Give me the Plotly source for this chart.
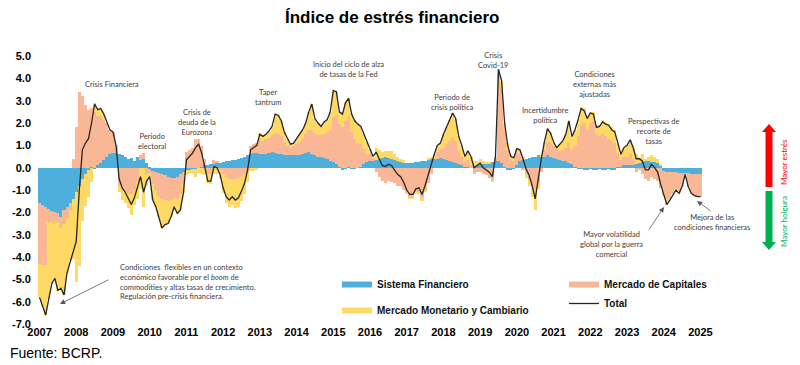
import plotly.graph_objects as go

# ---------------- data ----------------
years = list(range(2007, 2026))
periods = [f"{y}-{m:02d}" for y in range(2007, 2026) for m in range(1, 13)][:217]

sistema_financiero = [
 -1.6, -1.65, -1.75, -1.85, -1.95, -2.0, -2.05, -2.2, -1.9, -1.75, -1.6, -1.4,
 -1.1, -0.8, -0.5, -0.3, -0.1, 0.05, -0.05, 0.1, 0.2, 0.35, 0.5, 0.6,
 0.65, 0.65, 0.6, 0.55, 0.5, 0.4, 0.45, 0.3, 0.5, 0.35, 0.4, 0.2,
 -0.05, -0.15, -0.2, -0.25, -0.3, -0.35, -0.4, -0.45, -0.45, -0.4, -0.3, -0.2,
 -0.1, -0.1, -0.05, -0.05, 0.0, 0.05, 0.1, 0.1, 0.15, 0.15, 0.2, 0.2,
 0.25, 0.3, 0.3, 0.35, 0.35, 0.4, 0.45, 0.5, 0.55, 0.6, 0.65, 0.65,
 0.6, 0.6, 0.62, 0.65, 0.7, 0.65, 0.6, 0.6, 0.55, 0.55, 0.55, 0.55,
 0.55, 0.55, 0.6, 0.65, 0.7, 0.6, 0.55, 0.5, 0.5, 0.45, 0.4, 0.3,
 0.25, 0.15, 0.05, -0.1, -0.05, 0.05, -0.05, -0.05, 0.0, 0.05, 0.15, 0.25,
 0.3, 0.3, 0.35, 0.4, 0.45, 0.5, 0.45, 0.4, 0.35, 0.3, 0.25, 0.2,
 0.2, 0.2, 0.2, 0.25, 0.25, 0.3, 0.3, 0.35, 0.4, 0.4, 0.4, 0.45,
 0.4, 0.35, 0.3, 0.25, 0.2, 0.15, 0.1, 0.05, 0.05, 0.0, 0.05, 0.1,
 0.1, 0.15, 0.2, 0.2, 0.25, 0.3, 0.3, 0.2, 0.05, -0.1, -0.1, -0.05,
 0.1, 0.3, 0.35, 0.4, 0.45, 0.5, 0.5, 0.55, 0.5, 0.5, 0.55, 0.5,
 0.45, 0.4, 0.35, 0.3, 0.3, 0.2, 0.15, 0.05, -0.05, -0.05, -0.1, -0.1,
 -0.05, -0.1, -0.1, -0.05, -0.1, -0.1, -0.05, -0.1, -0.1, 0.05, 0.05, 0.1,
 0.1, 0.1, 0.1, 0.15, 0.2, 0.25, 0.3, 0.3, 0.25, 0.25, 0.2, 0.1,
 -0.15, -0.2, -0.2, -0.2, -0.2, -0.25, -0.25, -0.25, -0.25, -0.3, -0.3, -0.3,
 -0.3]

mercado_capitales = [
 -2.7, -2.7, -2.6, -0.6, -0.5, -0.4, -0.4, -0.5, -0.6, -0.5, -0.3, 0.4,
 1.8, 3.4, 3.2, 2.8, 2.6, 2.6, 2.5, 2.2, 2.1, 1.8, 1.5, 1.1,
 0.95, 0.35, -0.8, -1.0, -1.1, -1.2, -1.2, -1.0, -0.6, 0.2, 0.25, -0.3,
 -0.2, -0.6, -0.8, -1.0, -1.1, -1.1, -1.1, -1.0, -0.9, -1.0, -0.9, -0.5,
 0.7, 0.8, 0.9, 1.3, 1.3, 0.9, 0.3, -0.3, -0.3, 0.2, 0.1, -0.1,
 -0.3, -0.4, -0.5, -0.5, -0.5, -0.45, -0.4, -0.3, -0.2, 0.35, 0.4, 0.45,
 0.7, 0.6, 0.65, 0.7, 0.75, 0.9, 0.9, 0.8, 0.6, 0.45, 0.35, 0.4,
 0.5, 0.6, 0.7, 0.85, 1.0, 1.1, 1.0, 0.95, 0.95, 1.05, 1.2, 1.4,
 2.0, 2.2, 1.9, 1.8, 2.1, 2.2, 1.6, 1.3, 1.1, 1.0, 0.7, 0.35,
 0.3, 0.1, -0.2, -0.4, -0.6, -0.7, -0.6, -0.65, -0.7, -0.8, -0.8, -1.0,
 -1.1, -1.3, -1.3, -1.1, -1.1, -1.3, -1.0, -0.7, -0.3, 0.0, 0.3, 0.4,
 0.5, 0.7, 0.9, 1.1, 1.0, 0.6, 0.4, 0.2, 0.3, 0.1, -0.3, -0.2,
 -0.2, -0.3, -0.35, -0.45, -0.55, 0.2, 3.9, 3.4, 1.7, 0.8, 0.4, 0.3,
 0.5, 0.3, -0.1, -0.3, -0.5, -0.8, -1.0, -0.7, -0.2, 0.3, 0.6, 0.6,
 0.5, 0.45, 0.4, 0.5, 0.6, 0.9, 0.7, 0.9, 1.4, 1.9, 2.0, 1.7,
 2.0, 2.1, 1.5, 1.4, 1.5, 1.4, 1.3, 1.2, 1.1, 0.6, 0.3, 0.4,
 0.4, 0.5, 0.3, -0.2, -0.1, -0.3, -0.5, -0.6, -0.4, -0.5, -0.6, -0.9,
 -1.0, -1.3, -1.2, -1.0, -0.7, -0.8, -0.5, -0.05, -0.6, -0.85, -0.95, -1.0,
 -1.0]

mercado_monetario = [
 -1.5, -1.85, -2.25, -3.45, -2.75, -2.55, -3.05, -2.7, -3.2, -2.45, -2.3, -2.7,
 -4.0, -3.6, -1.9, -1.4, -1.2, -0.65, 0.4, 0.3, 0.35, 0.25, 0.0, 0.0,
 0.0, 0.0, -0.3, -0.45, -0.5, -0.6, -0.9, -0.65, -0.8, -0.95, -1.75, -0.5,
 -0.15, -0.7, -0.75, -0.95, -1.3, -1.1, -1.0, -0.75, -0.4, -0.65, -0.7, -0.45,
 -0.25, -0.2, -0.2, -0.35, -0.25, -0.3, -0.35, -0.4, -0.45, -0.3, -0.3, -0.4,
 -0.85, -1.2, -1.25, -1.15, -1.3, -1.3, -1.1, -0.9, -0.45, -0.15, -0.15, -0.1,
 0.2, 0.2, 0.23, 0.3, 0.4, 0.85, 0.85, 0.7, 0.45, 0.3, 0.15, 0.15,
 0.25, 0.35, 0.4, 0.5, 0.8, 1.15, 0.65, 0.55, 0.4, 0.55, 0.55, 0.8,
 1.2, 1.05, 0.55, 0.7, 0.85, 0.85, 0.85, 0.85, 0.85, 0.8, 0.65, 0.55,
 0.25, 0.1, 0.55, 0.4, 0.25, 0.25, 0.3, 0.35, 0.25, 0.2, 0.15, 0.15,
 -0.1, -0.1, -0.1, -0.1, -0.05, -0.2, -0.1, 0.05, 0.1, 0.2, 0.3, 0.25,
 0.6, 0.75, 0.95, 1.1, 1.0, 0.65, 0.5, 0.25, 0.4, 0.4, 0.25, 0.2,
 0.3, 0.15, 0.05, 0.05, -0.1, 0.0, 0.2, 0.3, 0.25, 0.3, 0.2, 0.2,
 0.25, 0.2, 0.15, -0.15, -0.3, -0.5, -0.9, -0.25, 0.1, 0.35, 0.6, 0.45,
 0.2, 0.05, 0.3, 0.4, 0.6, 1.0, 0.55, 0.75, 0.8, 0.8, 0.65, 0.6,
 0.5, 0.4, 0.4, 0.5, 0.65, 0.65, 0.65, 0.6, 0.6, 0.45, 0.25, 0.4,
 0.5, 0.65, 0.5, 0.45, 0.3, 0.35, 0.1, 0.2, 0.3, 0.25, 0.2, 0.05,
 -0.1, -0.15, -0.05, 0.0, -0.1, -0.1, -0.1, 0.0, 0.0, 0.0, 0.0, 0.0,
 0.0]

total = [
 -5.8, -6.2, -6.6, -5.9, -5.2, -4.95, -5.5, -5.4, -5.7, -4.7, -4.2, -3.7,
 -3.3, -1.0, 0.8, 1.1, 1.3, 2.0, 2.85, 2.6, 2.65, 2.4, 2.0, 1.7,
 1.6, 1.0, -0.5, -0.9, -1.1, -1.4, -1.65, -1.35, -0.9, -0.4, -1.1, -0.6,
 -0.4, -1.45, -1.75, -2.2, -2.7, -2.55, -2.5, -2.2, -1.75, -2.05, -1.9, -1.15,
 0.35, 0.5, 0.65, 0.9, 1.05, 0.65, 0.05, -0.6, -0.6, 0.05, 0.0, -0.3,
 -0.9, -1.3, -1.45, -1.3, -1.45, -1.35, -1.05, -0.7, -0.1, 0.8, 0.9, 1.0,
 1.5, 1.4, 1.5, 1.65, 1.85, 2.4, 2.35, 2.1, 1.6, 1.3, 1.05, 1.1,
 1.3, 1.5, 1.7, 2.0, 2.5, 2.85, 2.2, 2.0, 1.85, 2.05, 2.15, 2.5,
 3.45, 3.4, 2.5, 2.4, 2.9, 3.1, 2.4, 2.1, 1.95, 1.85, 1.5, 1.15,
 0.85, 0.5, 0.7, 0.4, 0.1, 0.05, 0.15, 0.1, -0.1, -0.3, -0.4, -0.65,
 -1.0, -1.2, -1.2, -0.95, -0.9, -1.2, -0.8, -0.3, 0.2, 0.6, 1.0, 1.1,
 1.5, 1.8, 2.15, 2.45, 2.2, 1.4, 1.0, 0.5, 0.75, 0.5, 0.0, 0.1,
 0.2, 0.0, -0.1, -0.2, -0.4, 0.5, 4.4, 3.9, 2.0, 1.0, 0.5, 0.45,
 0.85, 0.8, 0.4, -0.05, -0.35, -0.8, -1.4, -0.4, 0.4, 1.15, 1.75, 1.55,
 1.15, 0.9, 1.05, 1.2, 1.5, 2.1, 1.4, 1.7, 2.15, 2.65, 2.55, 2.2,
 2.45, 2.4, 1.8, 1.85, 2.05, 1.95, 1.9, 1.7, 1.6, 1.1, 0.6, 0.9,
 1.0, 1.25, 0.9, 0.4, 0.4, 0.3, -0.1, -0.1, 0.15, 0.0, -0.2, -0.75,
 -1.25, -1.65, -1.45, -1.2, -1.0, -1.15, -0.85, -0.3, -0.85, -1.15, -1.25, -1.3,
 -1.3]

y_ticks = list(range(-7, 6))

# ---------------- style ----------------
BLUE = "#4FAFDC"
SALMON = "#F9B795"
YELLOW = "#FFD966"
LINE = "#262626"
ANN = "#404040"
BOLD_FONT = "Liberation Sans"
SMALL_FONT = "Lato"

OFF = 8                      # page body margin of the browser
W, H = 800 - OFF, 365 - OFF  # figure size so that it fits the window
L, R, T, B = 38, 702, 56, 324  # plot area in reference-image pixels


def px(x):
    return (x - L) / (R - L)


def py(y):
    return (B - y) / (B - T)


fig = go.Figure()
fig.add_trace(go.Bar(x=periods, y=sistema_financiero, marker=dict(color=BLUE, line=dict(width=0)),
                     showlegend=False, name="Sistema Financiero"))
fig.add_trace(go.Bar(x=periods, y=mercado_capitales, marker=dict(color=SALMON, line=dict(width=0)),
                     showlegend=False, name="Mercado de Capitales"))
fig.add_trace(go.Bar(x=periods, y=mercado_monetario, marker=dict(color=YELLOW, line=dict(width=0)),
                     showlegend=False, name="Mercado Monetario y Cambiario"))
fig.add_trace(go.Scatter(x=periods, y=total, mode="lines", line=dict(color=LINE, width=1.3),
                         name="Total", legend="legend2", legendgroup="d", legendrank=2))

# legend proxies (wide thin swatches as in the reference)
fig.add_trace(go.Scatter(x=[None], y=[None], mode="lines", line=dict(color=BLUE, width=6),
                         name="Sistema Financiero", legend="legend", legendgroup="a"))
fig.add_trace(go.Scatter(x=[None], y=[None], mode="lines", line=dict(color=YELLOW, width=6),
                         name="Mercado Monetario y Cambiario", legend="legend", legendgroup="b"))
fig.add_trace(go.Scatter(x=[None], y=[None], mode="lines", line=dict(color=SALMON, width=6),
                         name="Mercado de Capitales", legend="legend2", legendgroup="c", legendrank=1))

legend_font = dict(family=BOLD_FONT, size=10, color="#111111", weight="bold")
tick_font = dict(family=BOLD_FONT, size=11, color="#000000", weight="bold")

annotations = []


def note(text, x, y, **kw):
    d = dict(text=text, x=px(x), y=py(y), xref="paper", yref="paper", showarrow=False,
             font=dict(family=SMALL_FONT, size=7.5, color=ANN), align="center",
             xanchor="center", yanchor="middle")
    d.update(kw)
    annotations.append(d)


def arrow(x0, y0, x1, y1):
    # arrow from (x0,y0) tail to (x1,y1) head, reference pixel coordinates
    annotations.append(dict(text="", x=px(x1), y=py(y1), xref="paper", yref="paper",
                            ax=x0 - x1, ay=y0 - y1, showarrow=True, arrowhead=2,
                            arrowsize=1.3, arrowwidth=0.8, arrowcolor="#595959"))


note("Crisis Financiera", 112, 84)
note("Periodo<br>electoral", 152, 141)
note("Crisis de<br>deuda de la<br>Eurozona", 197, 122)
note("Taper<br>tantrum", 268, 97.5)
note("Inicio del ciclo de alza<br>de tasas de la Fed", 348, 69.5)
note("Periodo de<br>crisis política", 452, 102)
note("Crisis<br>Covid-19", 493, 60.5)
note("Incertidumbre<br>política", 545, 115.5)
note("Condiciones<br>externas más<br>ajustadas", 594, 84)
note("Perspectivas de<br>recorte de<br>tasas", 653, 131)
note("Mayor volatilidad<br>global por la guerra<br>comercial", 611, 244)
note("Mejora de las<br>condiciones financieras", 712, 222.5)
note("Condiciones  flexibles en un contexto<br>económico favorable por el <i>boom</i> de<br>"
     "commodities y altas tasas de crecimiento.<br>Regulación pre-crisis financiera.",
     118, 282, xanchor="left", align="left")

arrow(110, 279, 60, 304)
arrow(648, 231, 664, 207)
arrow(712, 212, 697, 201)

# title and source
annotations.append(dict(text="<b>Índice de estrés financiero</b>", x=px(392), y=py(17),
                        xref="paper", yref="paper", showarrow=False, xanchor="center", yanchor="middle",
                        font=dict(family=BOLD_FONT, size=17, color="#000000")))
annotations.append(dict(text="Fuente: BCRP.", x=px(8), y=py(353), xref="paper", yref="paper",
                        showarrow=False, xanchor="left", yanchor="middle",
                        font=dict(family=BOLD_FONT, size=14, color="#000000")))

# side labels
annotations.append(dict(text="Mayor estrés", x=px(784), y=py(162), xref="paper", yref="paper",
                        showarrow=False, textangle=-90, xanchor="center", yanchor="middle",
                        font=dict(family=SMALL_FONT, size=8, color="#FF0000")))
annotations.append(dict(text="Mayor holgura", x=px(784), y=py(222), xref="paper", yref="paper",
                        showarrow=False, textangle=-90, xanchor="center", yanchor="middle",
                        font=dict(family=SMALL_FONT, size=8, color="#00B050")))


def rect(x0, y0, x1, y1, color):
    return dict(type="rect", xref="paper", yref="paper", x0=px(x0), x1=px(x1), y0=py(y0), y1=py(y1),
                fillcolor=color, line=dict(width=0), layer="above")


def tri(pts, color):
    path = "M " + " L ".join(f"{px(a)},{py(b)}" for a, b in pts) + " Z"
    return dict(type="path", xref="paper", yref="paper", path=path, fillcolor=color,
                line=dict(width=0), layer="above")


shapes = [
    rect(765.5, 132, 772.5, 187, "#FF0000"),
    tri([(762, 132), (776, 132), (769, 124)], "#FF0000"),
    rect(765.5, 191, 772.5, 242, "#00B050"),
    tri([(762, 242), (776, 242), (769, 250)], "#00B050"),
]

fig.update_layout(
    width=W, height=H,
    margin=dict(l=L - OFF, r=W - (R - OFF), t=T - OFF, b=H - (B - OFF), autoexpand=False),
    paper_bgcolor="white", plot_bgcolor="white",
    barmode="relative", bargap=0,
    showlegend=True,
    legend=dict(x=px(337), y=py(270), xanchor="left", yanchor="top", bgcolor="rgba(0,0,0,0)",
                font=legend_font, tracegroupgap=7, itemwidth=30),
    legend2=dict(x=px(564), y=py(270), xanchor="left", yanchor="top", bgcolor="rgba(0,0,0,0)",
                 font=legend_font, tracegroupgap=7, itemwidth=30, traceorder="normal"),
    annotations=annotations,
    shapes=shapes,
    xaxis=dict(type="category", range=[-0.5, len(periods) - 0.5], automargin=False,
               tickvals=[f"{y}-01" for y in years], ticktext=[str(y) for y in years],
               showgrid=False, showline=False, zeroline=False, ticks="",
               tickfont=tick_font, tickangle=0),
    yaxis=dict(range=[-7, 5], tickvals=y_ticks, ticktext=[f"{v:.1f}" for v in y_ticks],
               automargin=False,
               showgrid=False, showline=False, zeroline=False, ticks="", ticklabelstandoff=6,
               tickfont=tick_font),
)

fig.write_html("out.html")
